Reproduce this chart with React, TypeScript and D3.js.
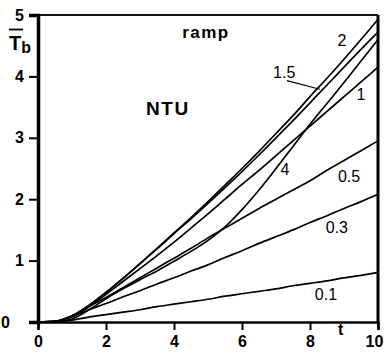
import { useEffect, useRef } from "react";
import * as d3 from "d3";

// time samples (dimensionless t)
const T = [0, 0.5, 1, 1.5, 2, 2.5, 3, 3.5, 4, 4.5, 5, 5.5, 6, 6.5, 7, 7.5, 8, 8.5, 9, 9.5, 10];

// outlet temperature response / T_b, one list per NTU
const NTU_01 = [0, 0.01, 0.03, 0.08, 0.12, 0.16, 0.2, 0.25, 0.29, 0.33, 0.37, 0.42, 0.46, 0.5, 0.54, 0.59, 0.63, 0.67, 0.72, 0.76, 0.81];
const NTU_03 = [0, 0.01, 0.09, 0.2, 0.3, 0.41, 0.51, 0.62, 0.72, 0.83, 0.93, 1.05, 1.16, 1.28, 1.39, 1.5, 1.62, 1.73, 1.85, 1.96, 2.08];
const NTU_05 = [0, 0.01, 0.1, 0.25, 0.4, 0.56, 0.72, 0.88, 1.04, 1.2, 1.37, 1.53, 1.69, 1.85, 2.0, 2.15, 2.3, 2.47, 2.63, 2.79, 2.95];
const NTU_1 = [0, 0.01, 0.08, 0.25, 0.45, 0.66, 0.87, 1.08, 1.3, 1.53, 1.76, 2.0, 2.24, 2.47, 2.71, 2.95, 3.19, 3.43, 3.67, 3.91, 4.15];
const NTU_15 = [0, 0.01, 0.1, 0.27, 0.48, 0.71, 0.95, 1.19, 1.44, 1.68, 1.93, 2.19, 2.45, 2.72, 3.0, 3.28, 3.57, 3.86, 4.15, 4.44, 4.72];
const NTU_2 = [0, 0.01, 0.1, 0.27, 0.48, 0.71, 0.95, 1.2, 1.45, 1.7, 1.96, 2.23, 2.5, 2.78, 3.07, 3.36, 3.67, 3.97, 4.28, 4.6, 4.93];
const NTU_4 = [0, 0, 0.05, 0.2, 0.38, 0.54, 0.69, 0.83, 0.99, 1.15, 1.33, 1.55, 1.83, 2.15, 2.5, 2.86, 3.22, 3.56, 3.9, 4.25, 4.6];

const SERIES = [
  { ntu: "0.1", values: NTU_01 },
  { ntu: "0.3", values: NTU_03 },
  { ntu: "0.5", values: NTU_05 },
  { ntu: "1", values: NTU_1 },
  { ntu: "1.5", values: NTU_15 },
  { ntu: "2", values: NTU_2 },
  { ntu: "4", values: NTU_4 },
];

const X_TICKS = [0, 2, 4, 6, 8, 10];
const Y_TICKS = [0, 1, 2, 3, 4, 5];

// curve labels placed in data units
const CURVE_LABELS = [
  { text: "2", t: 8.94, v: 4.5 },
  { text: "1.5", t: 7.24, v: 3.97 },
  { text: "1", t: 9.5, v: 3.62 },
  { text: "4", t: 7.26, v: 2.39 },
  { text: "0.5", t: 9.15, v: 2.28 },
  { text: "0.3", t: 8.79, v: 1.45 },
  { text: "0.1", t: 8.47, v: 0.36 },
];

const FONT = "'Liberation Sans', Arial, Helvetica, sans-serif";

export default function App() {
  const svgRef = useRef<SVGSVGElement>(null);

  useEffect(() => {
    const el = svgRef.current;
    if (!el) return;
    const W = 384, H = 353;
    const m = { top: 15, right: 6, bottom: 31, left: 38 };
    const iW = W - m.left - m.right;
    const iH = H - m.top - m.bottom;

    d3.select(el).selectAll("*").remove();
    const svg = d3.select(el).attr("viewBox", `0 0 ${W} ${H}`);
    const g = svg.append("g").attr("transform", `translate(${m.left},${m.top})`);

    const x = d3.scaleLinear().domain([0, 10]).range([0, iW]);
    const y = d3.scaleLinear().domain([0, 5]).range([iH, 0]);

    // curves
    const line = d3.line<number>().x((_, i) => x(T[i])).y(d => y(d)).curve(d3.curveMonotoneX);
    SERIES.forEach(s => {
      g.append("path").datum(s.values)
        .attr("fill", "none").attr("stroke", "#000")
        .attr("stroke-width", 1.7).attr("stroke-linejoin", "round")
        .attr("d", line);
    });

    // frame
    g.append("line").attr("x1", 0).attr("x2", iW).attr("y1", 0).attr("y2", 0)
      .attr("stroke", "#111").attr("stroke-width", 2);
    g.append("line").attr("x1", iW).attr("x2", iW).attr("y1", 0).attr("y2", iH)
      .attr("stroke", "#000").attr("stroke-width", 3);

    // axes
    g.append("g").attr("transform", `translate(0,${iH})`)
      .call(d3.axisBottom(x).tickValues(X_TICKS).tickSize(8).tickPadding(6).tickFormat(d3.format("d")))
      .call(ax => ax.select(".domain").attr("stroke", "#000").attr("stroke-width", 2.5))
      .call(ax => ax.selectAll(".tick line").attr("stroke", "#000").attr("stroke-width", 2))
      .call(ax => ax.selectAll("text")
        .attr("fill", "#000").attr("font-size", "16px").attr("font-weight", "bold")
        .attr("font-family", FONT)
        .attr("dx", (d: any) => (d === 10 ? -4 : 0)));

    g.append("g")
      .call(d3.axisLeft(y).tickValues(Y_TICKS).tickSize(9).tickPadding(5).tickFormat(d3.format("d")))
      .call(ax => ax.select(".domain").attr("stroke", "#000").attr("stroke-width", 3.5))
      .call(ax => ax.selectAll(".tick line").attr("stroke", "#000").attr("stroke-width", 2))
      .call(ax => ax.selectAll("text")
        .attr("fill", "#000").attr("font-size", "16px").attr("font-weight", "bold")
        .attr("font-family", FONT)
        .attr("dx", (d: any) => (d === 0 ? -14 : 0)));

    // 1.5 leader
    g.append("line")
      .attr("x1", x(7.32)).attr("y1", y(3.93))
      .attr("x2", x(8.29)).attr("y2", y(3.79))
      .attr("stroke", "#000").attr("stroke-width", 1.2);

    // curve labels
    CURVE_LABELS.forEach(l => {
      g.append("text").attr("x", x(l.t)).attr("y", y(l.v))
        .attr("text-anchor", "middle").attr("font-family", FONT)
        .attr("font-size", "16px").attr("fill", "#000")
        .text(l.text);
    });

    g.append("text").attr("x", x(4.94)).attr("y", y(4.63))
      .attr("text-anchor", "middle").attr("font-family", FONT)
      .attr("font-size", "17px").attr("font-weight", "bold")
      .attr("letter-spacing", "1.5px").text("ramp");

    g.append("text").attr("x", x(3.82)).attr("y", y(3.37))
      .attr("text-anchor", "middle").attr("font-family", FONT)
      .attr("font-size", "19px").attr("font-weight", "bold")
      .attr("letter-spacing", "1.5px").text("NTU");

    g.append("text").attr("x", x(8.9)).attr("y", iH + 13)
      .attr("text-anchor", "middle").attr("font-family", FONT)
      .attr("font-size", "16px").attr("font-weight", "bold").text("t");

    // y label: overlined T with subscript b
    const yl = svg.append("g");
    yl.append("line").attr("x1", 9).attr("x2", 23).attr("y1", 29.5).attr("y2", 29.5)
      .attr("stroke", "#000").attr("stroke-width", 1.8);
    const tl = yl.append("text").attr("x", 9).attr("y", 50)
      .attr("font-family", FONT).attr("font-size", "20px").attr("font-weight", "bold");
    tl.append("tspan").text("T");
    tl.append("tspan").attr("font-size", "16px").attr("dy", 3).text("b");
  }, []);

  return (
    <svg ref={svgRef} width={384} height={353}
      style={{ position: "absolute", left: 0, top: 0, background: "#fff" }} />
  );
}
